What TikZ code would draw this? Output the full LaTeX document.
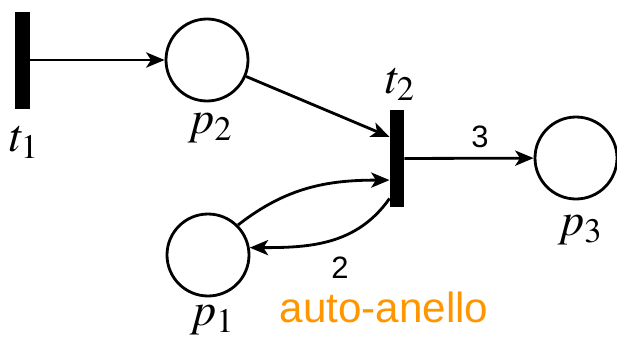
\documentclass[tikz,border=0pt]{standalone}
\usepackage{mathptmx}
\usepackage[no-math]{fontspec}
\setsansfont{Liberation Sans}
\usetikzlibrary{arrows.meta, positioning}
\definecolor{autoorange}{RGB}{255,150,0}

\begin{document}
\begin{tikzpicture}[
		place/.style={
			circle,
			draw,
			line width=2pt,
			minimum size=2.05cm,
			inner sep=0pt
		},
		trans/.style={
			rectangle,
			fill=black,
			minimum width=0.36cm,
			minimum height=2.425cm,
			inner sep=0pt
		},
		lbl/.style={
			font=\fontsize{33}{36}\selectfont,
			inner sep=0pt
		},
		weight/.style={
			font=\sffamily\fontsize{22}{24}\selectfont,
			inner sep=0pt
		},
		arrow/.style={
			-{Stealth[length=4.6mm, width=3.8mm, inset=1.2mm]},
			line width=2pt
		}
		]
		\useasboundingbox (0,0) rectangle (15.425,-8.6);
		
		% transitions
		\node[trans] (t1) at (0.5625,-1.5) {};
		\node[trans] (t2) at (9.925,-3.9625) {};
		
		% places
		\node[place] (p2) at (5.175,-1.5) {};
		\node[place] (p1) at (5.2,-6.375) {};
		\node[place] (p3) at (14.4,-3.95) {};
		
		% names
		\node[lbl] (t1name) at (0.6,-3.55) {$t_1$};
		\node[lbl] (t2name) at (10.0,-2.1) {$t_2$};
		\node[lbl] (p2name) at (5.25,-3.2) {$p_2$};
		\node[lbl] (p1name) at (5.3,-8.0) {$p_1$};
		\node[lbl] (p3name) at (14.5,-5.75) {$p_3$};
		
		% weights
		\node[weight] (w3) at (12.0,-3.425) {3};
		\node[weight] (w2) at (8.5,-6.7) {2};
		\node[font=\sffamily\fontsize{30}{34}\selectfont, text=autoorange, inner sep=0pt, anchor=base] (selfloop) at (9.6,-8.05) {auto-anello};
		%--
		\draw[arrow] (t1) -- (p2);
		\draw[arrow] (p2) -- ([yshift=0.54cm]t2.west);
		\draw[arrow] (t2) -- (p3);
		%--
		\draw[arrow] (p1.45) to[out=38, in=180] ([yshift=-0.54cm]t2.west);
		\draw[arrow] ([yshift=0.22cm]t2.south west) to[out=235, in=0] (p1.10);
		
\end{tikzpicture}
\end{document}
